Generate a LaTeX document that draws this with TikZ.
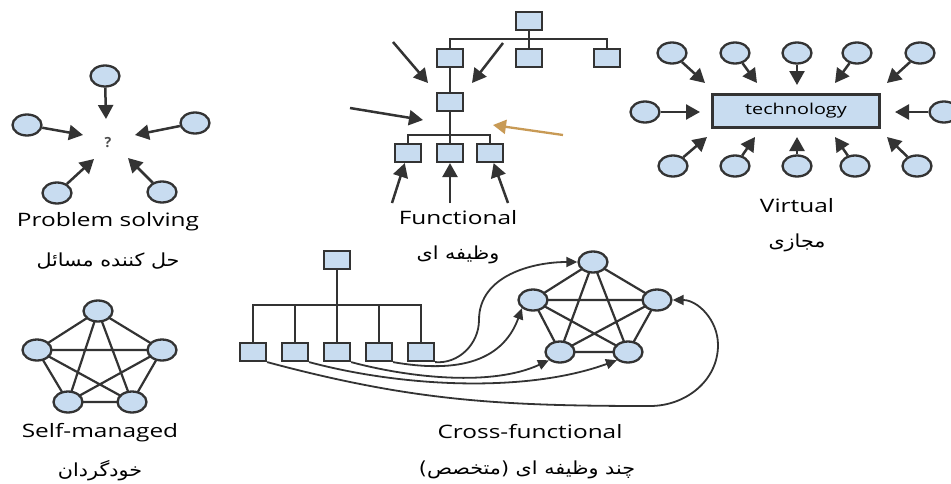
\documentclass[tikz,border=0pt]{standalone}
\usepackage{fontspec}
\setmainfont{Open Sans}
\newfontfamily\arabicfont[Script=Arabic]{DejaVu Sans}
\TeXXeTstate=1
\usetikzlibrary{shapes.geometric,arrows.meta}
\definecolor{linec}{HTML}{333333}
\definecolor{fillc}{HTML}{C8DCF0}
\definecolor{orangec}{HTML}{C89A55}
\newcommand{\wide}[1]{\scalebox{1.32}[1]{#1}}
\begin{document}
\begin{tikzpicture}[x=1pt,y=-1pt,
  circ/.style={ellipse,draw=linec,fill=fillc,line width=2.3pt,minimum width=29pt,minimum height=21pt,inner sep=0pt},
  box/.style={rectangle,draw=linec,fill=fillc,line width=2.2pt,minimum width=26pt,minimum height=18pt,inner sep=0pt},
  arr/.style={draw=linec,line width=2.5pt,-{Triangle[length=14pt,width=15pt]}},
  oarr/.style={draw=orangec,line width=2.3pt,-{Triangle[length=13pt,width=14pt]}},
  org/.style={draw=linec,line width=2.2pt},
  edge/.style={draw=linec,line width=2.2pt},
  curv/.style={draw=linec,line width=1.8pt,-{Triangle[length=11pt,width=10pt]}},
  lab/.style={font=\fontsize{18.5}{22}\selectfont,text=black},
  alab/.style={font=\arabicfont\fontsize{18}{20}\selectfont,text=black}
]
\useasboundingbox (0,0) rectangle (951,483);
\fill[white] (0,0) rectangle (951,483);

% ---------- Problem solving ----------
\node[circ] (p1) at (105,76) {};
\node[circ] (p2) at (27,125) {};
\node[circ] (p3) at (195,123) {};
\node[circ] (p4) at (57,193) {};
\node[circ] (p5) at (162,192) {};
\node[font=\bfseries\fontsize{14}{14}\selectfont,text=black!70] (q) at (108,143) {?};
\coordinate (pt1) at (106,119);
\coordinate (pt2) at (83,135);
\coordinate (pt3) at (135,135);
\coordinate (pt4) at (94,159);
\coordinate (pt5) at (128,158);
\draw[arr] (p1) -- (pt1);
\draw[arr] (p2) -- (pt2);
\draw[arr] (p3) -- (pt3);
\draw[arr] (p4) -- (pt4);
\draw[arr] (p5) -- (pt5);
\node[lab] (plab) at (108,222) {\wide{Problem solving}};
\node[alab] (palab) at (108,261) {\scalebox{1.15}[1]{\beginR حل کننده مسائل\endR}};

% ---------- Functional ----------
\node[box] (f0) at (529,21) {};
\node[box] (f1) at (450,58) {};
\node[box] (f2) at (529,58) {};
\node[box] (f3) at (607,58) {};
\node[box] (f4) at (450,102) {};
\node[box] (f5) at (408,153) {};
\node[box] (f6) at (450,153) {};
\node[box] (f7) at (490,153) {};
\draw[org] (f0.south) -- (f2.north);
\draw[org] (f1.north) |- (529,39) -| (f3.north);
\draw[org] (f1.south) -- (f4.north);
\draw[org] (f4.south) -- (f6.north);
\draw[org] (f5.north) |- (450,135) -| (f7.north);
\coordinate (fa1s) at (393,42);  \coordinate (fa1e) at (428,83);
\coordinate (fa2s) at (503,43);  \coordinate (fa2e) at (472,83);
\coordinate (fa3s) at (350,108); \coordinate (fa3e) at (423,120);
\coordinate (fa4s) at (563,135); \coordinate (fa4e) at (493,125);
\coordinate (fb1) at (392,203);
\coordinate (fb2) at (450,203);
\coordinate (fb3) at (508,203);
\draw[arr] (fa1s) -- (fa1e);
\draw[arr] (fa2s) -- (fa2e);
\draw[arr] (fa3s) -- (fa3e);
\draw[oarr] (fa4s) -- (fa4e);
\draw[arr] (fb1) -- (f5);
\draw[arr] (fb2) -- (f6);
\draw[arr] (fb3) -- (f7);
\node[lab] (flab) at (458,218) {\wide{Functional}};
\node[alab] (falab) at (458,255) {\scalebox{1.15}[1]{\beginR وظیفه ای\endR}};

% ---------- Virtual ----------
\node[rectangle,draw=linec,fill=fillc,line width=2.3pt,minimum width=167pt,minimum height=33pt,inner sep=0pt,font=\fontsize{15}{17}\selectfont,text=black] (tech) at (796,111) {\wide{technology}};
\node[circ] (vt1) at (672,53) {};
\node[circ] (vt2) at (735,53) {};
\node[circ] (vt3) at (797,53) {};
\node[circ] (vt4) at (857,53) {};
\node[circ] (vt5) at (920,53) {};
\node[circ] (vl) at (645,112) {};
\node[circ] (vr) at (944,112) {};
\node[circ] (vb1) at (673,166) {};
\node[circ] (vb2) at (735,166) {};
\node[circ] (vb3) at (797,166) {};
\node[circ] (vb4) at (855,166) {};
\node[circ] (vb5) at (917,166) {};
\coordinate (vte1) at (705,83);
\coordinate (vte2) at (757,83);
\coordinate (vte3) at (797,85);
\coordinate (vte4) at (835,83);
\coordinate (vte5) at (887,83);
\coordinate (vle) at (700,112);
\coordinate (vre) at (895,112);
\coordinate (vbe1) at (707,137);
\coordinate (vbe2) at (755,137);
\coordinate (vbe3) at (797,137);
\coordinate (vbe4) at (835,137);
\coordinate (vbe5) at (887,137);
\draw[arr] (vt1) -- (vte1);
\draw[arr] (vt2) -- (vte2);
\draw[arr] (vt3) -- (vte3);
\draw[arr] (vt4) -- (vte4);
\draw[arr] (vt5) -- (vte5);
\draw[arr] (vl) -- (vle);
\draw[arr] (vr) -- (vre);
\draw[arr] (vb1) -- (vbe1);
\draw[arr] (vb2) -- (vbe2);
\draw[arr] (vb3) -- (vbe3);
\draw[arr] (vb4) -- (vbe4);
\draw[arr] (vb5) -- (vbe5);
\node[lab] (vlab) at (797,206) {\wide{Virtual}};
\node[alab] (valab) at (797,243) {\scalebox{1.15}[1]{\beginR مجازی\endR}};

% ---------- Self-managed ----------
\draw[edge] (98,311) -- (37,350) (98,311) -- (162,350) (98,311) -- (68,402) (98,311) -- (132,402)
            (37,350) -- (162,350) (37,350) -- (68,402) (37,350) -- (132,402)
            (162,350) -- (68,402) (162,350) -- (132,402) (68,402) -- (132,402);
\node[circ] (s1) at (98,311) {};
\node[circ] (s2) at (37,350) {};
\node[circ] (s3) at (162,350) {};
\node[circ] (s4) at (68,402) {};
\node[circ] (s5) at (132,402) {};
\node[lab] (slab) at (100,433) {\wide{Self-managed}};
\node[alab] (salab) at (100,471) {\scalebox{1.15}[1]{\beginR خودگردان\endR}};

% ---------- Cross-functional ----------
\node[box] (c0) at (337,260) {};
\node[box] (c1) at (253,352) {};
\node[box] (c2) at (295,352) {};
\node[box] (c3) at (337,352) {};
\node[box] (c4) at (379,352) {};
\node[box] (c5) at (421,352) {};
\draw[org] (c0.south) -- (c3.north);
\draw[org] (c1.north) |- (337,305) -| (c5.north);
\draw[org] (c2.north) -- (295,305);
\draw[org] (c4.north) -- (379,305);
\draw[edge] (593,262) -- (533,300) (593,262) -- (657,300) (593,262) -- (560,352) (593,262) -- (628,352)
            (533,300) -- (657,300) (533,300) -- (560,352) (533,300) -- (628,352)
            (657,300) -- (560,352) (657,300) -- (628,352) (560,352) -- (628,352);
\node[circ] (n1) at (593,262) {};
\node[circ] (n2) at (533,300) {};
\node[circ] (n3) at (657,300) {};
\node[circ] (n4) at (560,352) {};
\node[circ] (n5) at (628,352) {};
\draw[curv] (c5.south east) to[out=-5,in=-90] (479,320) to[out=90,in=180] (n1.west);
\draw[curv] (c4.south east) to[out=-10,in=-110,looseness=1.1] (n2.south west);
\draw[curv] (c3.south east) to[out=-15,in=-155,looseness=0.8] (n4.south west);
\draw[curv] (c2.south east) to[out=-15,in=-160,looseness=0.8] (n5.south west);
\draw[curv] (c1.south east) to[out=-15,in=180] (650,406) to[out=0,in=-90] (718,345) to[out=90,in=0] (n3.east);
\node[lab] (clab) at (530,432) {\wide{Cross-functional}};
\node[alab] (calab) at (527,470) {\scalebox{1.15}[1]{\beginR چند وظیفه ای (متخصص)\endR}};
\end{tikzpicture}
\end{document}
